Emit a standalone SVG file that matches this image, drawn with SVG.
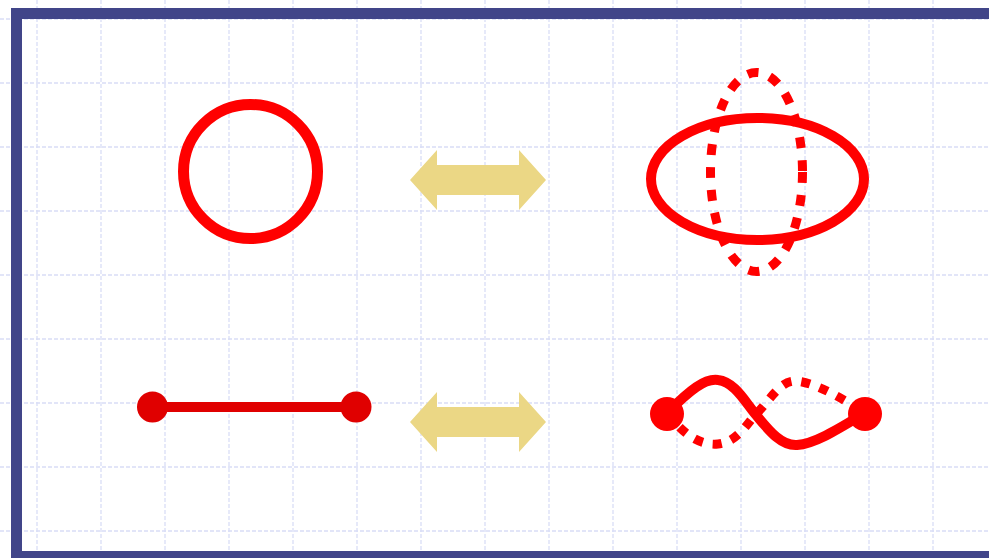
<svg xmlns="http://www.w3.org/2000/svg" width="989" height="558" viewBox="0 0 989 558">
<style>
.grid line{stroke:#d9ddf6;stroke-width:1.3;stroke-dasharray:4 2}
.arrow{fill:#ebd785}
.red{fill:none;stroke:#ff0000}
</style>
<rect width="989" height="558" fill="#ffffff"/>
<g class="grid">
<line x1="37" y1="0" x2="37" y2="558"/><line x1="101" y1="0" x2="101" y2="558"/><line x1="165" y1="0" x2="165" y2="558"/><line x1="229" y1="0" x2="229" y2="558"/><line x1="293" y1="0" x2="293" y2="558"/><line x1="357" y1="0" x2="357" y2="558"/><line x1="421" y1="0" x2="421" y2="558"/><line x1="485" y1="0" x2="485" y2="558"/><line x1="549" y1="0" x2="549" y2="558"/><line x1="613" y1="0" x2="613" y2="558"/><line x1="677" y1="0" x2="677" y2="558"/><line x1="741" y1="0" x2="741" y2="558"/><line x1="805" y1="0" x2="805" y2="558"/><line x1="869" y1="0" x2="869" y2="558"/><line x1="933" y1="0" x2="933" y2="558"/>
<line x1="0" y1="19" x2="989" y2="19"/><line x1="0" y1="83" x2="989" y2="83"/><line x1="0" y1="147" x2="989" y2="147"/><line x1="0" y1="211" x2="989" y2="211"/><line x1="0" y1="275" x2="989" y2="275"/><line x1="0" y1="339" x2="989" y2="339"/><line x1="0" y1="403" x2="989" y2="403"/><line x1="0" y1="467" x2="989" y2="467"/><line x1="0" y1="531" x2="989" y2="531"/>
</g>
<rect x="16.5" y="13.5" width="1000" height="543" fill="none" stroke="#414589" stroke-width="11"/>
<g id="circle">
<circle cx="250.5" cy="171.5" r="67" class="red" stroke-width="11"/>
</g>
<g id="arrow-top">
<polygon class="arrow" points="410,180 437,150 437,165 519,165 519,150 546,180 519,210 519,195 437,195 437,210"/>
</g>
<g id="ellipses">
<ellipse cx="756.5" cy="172" rx="46" ry="99.5" class="red" stroke-width="9" stroke-dasharray="11 12"/>
<ellipse cx="757.5" cy="179" rx="106.5" ry="61" class="red" stroke-width="10"/>
</g>
<g id="segment">
<line x1="152" y1="407" x2="356" y2="407" stroke="#e00000" stroke-width="10"/>
<circle cx="152.5" cy="407" r="15.5" fill="#e00000"/>
<circle cx="356" cy="407" r="15.5" fill="#e00000"/>
</g>
<g id="arrow-bottom">
<polygon class="arrow" points="410,422 437,392 437,407 519,407 519,392 546,422 519,452 519,437 437,437 437,452"/>
</g>
<g id="knot">
<path class="red" stroke-width="9" stroke-dasharray="9 10" d="M667,413 C680,430 697,446 718,444 C738,442 748,422 757,413 C770,400 780,381 795,381 C815,382 845,400 865,413"/>
<path class="red" stroke-width="10" d="M667,413 C690,390 705,378 718,380 C735,382 745,402 757,416 C770,432 782,446 797,445 C815,444 840,428 865,413"/>
<circle cx="667" cy="414" r="17" fill="#ff0000"/>
<circle cx="865" cy="414" r="17" fill="#ff0000"/>
</g>
</svg>
